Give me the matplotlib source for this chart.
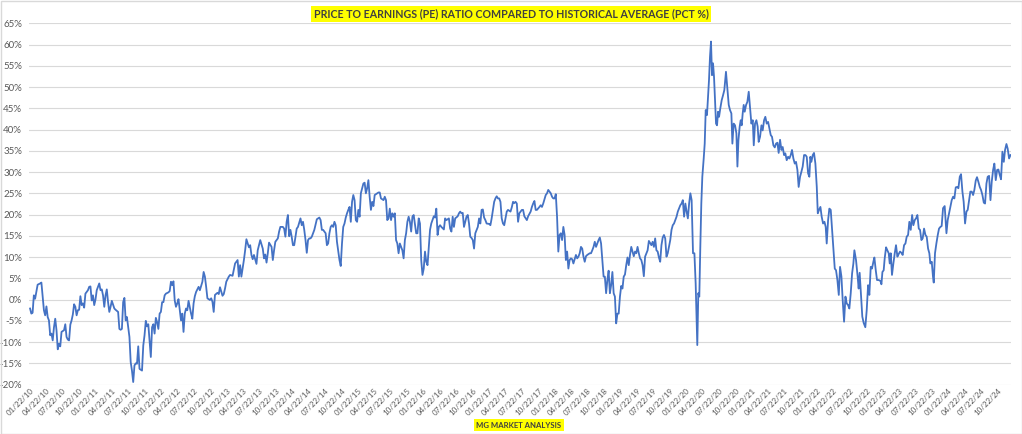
import matplotlib
matplotlib.use("Agg")
import matplotlib.pyplot as plt
import matplotlib.ticker as mticker
import matplotlib.dates as mdates
import numpy as np
import pandas as pd
from matplotlib.lines import Line2D
from matplotlib.patches import Rectangle

plt.rcParams["font.family"] = ["Lato", "DejaVu Sans"]

# weekly series, first observation 2010-01-22; weeks = weeks since then
start = "2010-01-22"

weeks_2010_12 = [0, 1, 2, 3, 4, 5, 6, 8, 9, 11, 12, 13, 14, 15, 16, 17, 18, 19, 20, 21,
                 22, 23, 24, 25, 27, 28, 29, 30, 31, 32, 33, 34, 35, 36, 37, 38, 39, 40, 41, 42,
                 43, 44, 46, 47, 48, 49, 50, 51, 52, 53, 54, 55, 56, 57, 58, 59, 60, 61, 62, 63,
                 64, 65, 67, 68, 70, 71, 72, 73, 74, 75, 76, 77, 79, 80, 81, 82, 83, 84, 85, 86,
                 87, 88, 89, 90, 91, 92, 93, 94, 95, 96, 97, 98, 99, 100, 101, 102, 103, 104, 105, 106,
                 107, 108, 110, 111, 112, 113, 114, 115, 116, 117, 118, 119, 120, 121, 122, 123, 124, 125, 126, 128,
                 129, 130, 131]
pe_2010_12 = [-2.1, -3.3, -3.1, 1.0, 0.2, 1.8, 3.5, 3.8, 4.0, -2.5, -3.7, -1.6, -4.1, -4.9, -8.4, -8.0, -9.6, -6.5, -4.5, -7.2,
              -11.7, -10.4, -11.0, -7.6, -7.2, -5.8, -8.8, -9.4, -9.6, -5.9, -4.9, -3.5, -1.1, -1.7, -3.7, -2.5, -2.4, 0.8, -1.3, -0.9,
              -1.9, 1.4, 2.2, 3.0, 3.1, -0.2, 1.0, -1.3, 0.0, 2.2, 3.0, 3.8, 2.2, 2.4, 1.0, -1.7, 1.0, 2.4, -0.6, -2.9,
              -1.7, -0.3, -2.1, -2.4, -2.9, -6.9, -7.1, -6.9, -0.6, 0.4, -4.9, -4.1, -8.8, -14.7, -16.7, -19.4, -15.5, -15.0, -15.1, -11.0,
              -16.3, -16.5, -16.7, -10.8, -8.4, -5.0, -6.3, -5.8, -9.6, -13.5, -6.5, -5.8, -8.0, -4.3, -5.3, -6.9, -3.3, -2.9, -0.6, -0.6,
              1.0, 1.4, 1.7, 2.0, 4.2, 3.4, 4.3, -0.2, -1.7, -0.9, 0.1, -2.5, -4.9, -3.3, -7.6, -3.3, -2.1, -2.5, -0.3, -3.3,
              -4.5, -0.9, 0.8]

weeks_2012_15 = [132, 134, 135, 137, 138, 139, 140, 141, 143, 144, 145, 146, 147, 149, 150, 151, 153, 154, 155, 156,
                 158, 159, 161, 163, 164, 165, 166, 167, 168, 170, 171, 172, 174, 175, 176, 177, 178, 180, 181, 182,
                 183, 185, 186, 187, 188, 189, 190, 192, 193, 194, 195, 197, 198, 199, 201, 202, 203, 204, 205, 206,
                 207, 208, 209, 210, 211, 212, 213, 215, 216, 217, 218, 219, 220, 221, 222, 223, 224, 226, 227, 228,
                 230, 231, 232, 233, 235, 236, 237, 238, 239, 240, 241, 242, 243, 244, 246, 247, 248, 249, 250, 251,
                 252, 253, 254, 255, 256, 257, 258, 259, 260, 261]
pe_2012_15 = [1.8, 3.0, 2.2, 4.2, 6.5, 5.4, 3.0, 0.3, -0.1, 0.3, -0.5, -2.9, 1.1, 1.6, 1.3, 2.9, 0.9, 1.3, 2.6, 4.2,
              5.4, 5.8, 5.6, 8.5, 8.9, 9.3, 5.4, 8.1, 5.4, 9.3, 11.6, 14.2, 12.3, 12.8, 10.5, 9.5, 10.5, 8.4, 11.6, 12.8,
              14.0, 12.0, 9.7, 10.6, 8.7, 10.9, 13.4, 12.4, 9.3, 11.6, 13.6, 14.4, 16.0, 17.1, 17.1, 16.7, 14.8, 18.3, 19.9, 14.9,
              16.4, 14.8, 12.8, 12.8, 14.8, 16.7, 17.1, 19.1, 17.5, 18.3, 16.4, 14.0, 11.0, 14.0, 14.4, 14.4, 14.8, 16.4, 17.7, 18.9,
              19.3, 18.7, 16.4, 16.4, 15.6, 12.8, 13.2, 15.6, 17.1, 17.5, 17.1, 18.3, 17.5, 13.6, 9.3, 7.9, 13.2, 17.1, 17.9, 19.3,
              20.3, 21.1, 21.8, 18.3, 23.0, 24.6, 23.4, 18.7, 18.3, 21.1]

weeks_2015_17 = [262, 263, 265, 266, 267, 268, 269, 270, 271, 272, 273, 274, 275, 277, 278, 279, 281, 282, 283, 284,
                 285, 286, 287, 288, 289, 290, 291, 292, 293, 294, 295, 296, 297, 298, 299, 300, 301, 302, 303, 304,
                 305, 307, 308, 309, 310, 311, 312, 313, 314, 315, 316, 317, 318, 319, 321, 322, 323, 324, 325, 326,
                 327, 329, 330, 331, 333, 334, 335, 336, 337, 338, 340, 341, 342, 343, 344, 345, 347, 348, 349, 350,
                 351, 352, 353, 354, 356, 357, 358, 359, 360, 361, 362, 363, 365, 366, 367, 368, 369, 370, 371, 372,
                 373, 374, 375, 376, 377, 378, 379, 380, 382, 383, 384, 385, 386, 387, 388, 389, 391, 392, 393]
pe_2015_17 = [19.5, 25.0, 27.3, 27.5, 25.0, 26.2, 28.1, 24.2, 21.1, 23.0, 22.0, 24.6, 24.8, 25.2, 25.2, 23.8, 23.4, 24.2, 23.4, 18.7,
              19.1, 21.4, 18.7, 20.3, 19.5, 20.3, 14.0, 13.2, 10.9, 13.2, 12.4, 11.6, 9.7, 14.0, 15.6, 18.3, 19.5, 18.3, 16.0, 19.5,
              19.9, 15.6, 15.6, 19.1, 17.9, 9.3, 5.8, 7.3, 11.3, 8.9, 8.1, 12.4, 16.4, 17.9, 19.6, 19.3, 21.4, 15.2, 17.1, 17.5,
              17.1, 16.5, 19.1, 18.7, 19.1, 16.7, 16.0, 19.5, 17.1, 19.1, 19.6, 20.3, 20.7, 20.3, 20.4, 17.1, 19.5, 19.9, 17.9, 14.8,
              14.5, 14.0, 12.0, 15.6, 17.1, 19.1, 17.9, 21.1, 21.2, 19.3, 18.7, 17.9, 17.8, 17.5, 19.1, 21.1, 23.0, 23.8, 24.3, 23.8,
              23.8, 23.0, 19.1, 17.9, 17.5, 19.1, 20.7, 21.1, 20.7, 21.7, 23.0, 22.7, 23.0, 22.6, 18.3, 20.3, 21.1, 21.1, 19.6]

weeks_2017_20 = [395, 396, 398, 399, 400, 401, 402, 403, 405, 406, 407, 408, 410, 411, 412, 414, 415, 416, 417, 418,
                 419, 420, 421, 422, 423, 424, 425, 426, 427, 428, 429, 430, 431, 432, 434, 435, 436, 437, 438, 439,
                 440, 441, 442, 443, 445, 446, 447, 448, 449, 450, 452, 453, 454, 455, 456, 457, 458, 459, 460, 461,
                 462, 463, 464, 465, 466, 467, 468, 469, 470, 471, 472, 473, 474, 475, 476, 477, 478, 479, 480, 481,
                 482, 483, 484, 485, 486, 487, 488, 489, 491, 492, 493, 494, 495, 496, 497, 498, 499, 500, 501, 502,
                 503, 504, 505, 506, 507, 508, 509, 510, 511, 512, 513, 514, 515, 517, 518, 519, 520, 521, 522, 523,
                 524, 525]
pe_2017_20 = [18.7, 19.6, 20.7, 21.8, 22.6, 23.2, 21.1, 21.1, 21.8, 22.2, 21.8, 22.6, 24.6, 25.0, 25.8, 25.0, 24.2, 23.8, 23.8, 24.8,
              19.5, 11.3, 15.2, 15.6, 14.0, 17.1, 15.2, 9.3, 11.3, 7.3, 9.3, 9.7, 9.5, 8.5, 10.5, 9.7, 10.1, 10.9, 12.4, 12.0,
              10.1, 8.9, 10.2, 10.5, 10.9, 10.9, 11.6, 12.4, 13.6, 12.4, 14.0, 14.6, 13.2, 9.3, 5.4, 5.4, 1.5, 4.6, 6.8, 1.5,
              3.4, 6.5, 1.5, 0.7, -5.6, -3.3, -3.3, 0.7, 3.2, 2.6, 5.4, 5.9, 8.1, 9.9, 8.1, 10.5, 12.4, 11.3, 10.2, 11.3,
              10.9, 12.4, 10.9, 9.7, 9.3, 8.1, 5.5, 10.1, 11.6, 13.8, 13.3, 12.8, 13.6, 12.4, 14.4, 11.6, 11.3, 9.9, 8.9, 12.8,
              14.6, 15.2, 14.4, 10.1, 10.9, 12.4, 14.0, 16.4, 17.5, 17.9, 18.7, 19.5, 20.7, 22.2, 22.6, 23.4, 19.5, 22.6, 20.7, 19.1,
              22.6, 25.0]

weeks_2020_22 = [526.0, 527.1, 528.2, 529.2, 530.0, 530.5, 531.3, 532.1, 532.9, 533.7, 534.5, 535.6, 536.4, 537.2, 538.2,
                 539.0, 539.8, 540.6, 541.4, 542.2, 543.0, 543.8, 544.6, 545.4, 546.2, 547.0, 547.8, 548.8, 549.9, 551.0,
                 552.0, 553.3, 554.4, 555.5, 556.5, 557.6, 558.4, 559.4, 560.5, 561.6, 562.4, 563.2, 564.2, 565.0, 565.8,
                 566.6, 567.4, 568.2, 569.3, 570.3, 571.4, 572.4, 573.5, 574.6, 575.4, 576.4, 577.5, 578.5, 579.3, 580.4,
                 581.5, 582.5, 583.6, 584.6, 585.7, 586.8, 587.8, 588.9, 589.9, 591.0, 592.1, 593.1, 594.2, 595.2, 596.3,
                 597.4, 598.4, 599.5, 600.5, 601.6, 602.7, 603.7, 604.8, 605.8, 606.9, 608.0, 609.0, 610.1, 611.1, 612.2,
                 613.3, 614.3, 615.4, 616.5, 617.5, 618.6, 619.6, 620.4, 621.2, 622.3, 623.3, 624.4, 625.5, 626.3, 627.3,
                 628.4, 629.4, 630.5, 631.6, 632.6, 633.4, 634.5, 635.5, 636.6, 637.7, 638.7, 639.8, 640.8, 641.9, 643.0,
                 644.0, 645.1, 646.1, 647.2, 648.3, 649.3, 650.4, 651.4, 652.5, 653.6, 654.6]
pe_2020_22 = [23.4, 10.9, 10.9, 3.8, -5.6, -10.7, 1.5, 0.7, 12.4, 22.6, 28.9, 33.2, 36.7, 44.6, 43.4,
              47.7, 51.6, 57.1, 60.7, 52.8, 55.6, 52.4, 46.9, 41.4, 41.0, 44.2, 43.0, 45.0, 46.9, 48.1,
              49.3, 53.6, 49.7, 45.8, 44.6, 43.8, 36.7, 41.4, 41.0, 39.1, 31.3, 37.5, 40.7, 42.2, 41.0,
              43.8, 45.8, 44.2, 45.8, 46.5, 48.9, 45.4, 41.4, 42.2, 36.3, 41.4, 42.2, 40.7, 37.1, 38.3,
              41.0, 39.8, 42.2, 43.0, 41.4, 41.8, 40.3, 38.7, 38.3, 36.3, 35.8, 36.7, 36.9, 34.5, 37.6,
              35.2, 35.9, 34.0, 34.4, 32.8, 33.6, 33.2, 34.0, 35.2, 33.2, 32.0, 32.4, 30.5, 26.5, 28.9,
              30.1, 31.3, 34.0, 34.0, 33.6, 29.7, 28.9, 33.6, 32.4, 34.0, 34.5, 32.0, 26.5, 20.3, 21.1,
              21.8, 19.5, 17.9, 18.3, 17.1, 13.2, 18.7, 21.4, 21.1, 16.4, 12.4, 7.3, 6.9, 4.6, 1.1,
              7.7, 5.4, -0.1, -5.2, 0.7, -0.9, -1.3, -2.1, 1.5, 6.2, 8.5]

weeks_2022_25 = [655.4, 656.7, 658.0, 658.8, 659.6, 660.7, 661.7, 662.8, 664.1, 665.2, 666.3, 667.3, 668.4, 669.4, 670.5,
                 671.3, 672.4, 673.4, 674.7, 676.1, 676.9, 677.7, 678.7, 679.5, 680.6, 681.6, 682.7, 683.5, 684.3, 685.3,
                 686.4, 687.5, 688.5, 689.6, 690.6, 691.7, 692.8, 693.8, 694.9, 696.0, 697.0, 698.1, 699.1, 700.2, 701.3,
                 702.3, 703.4, 704.4, 705.5, 706.6, 707.6, 708.7, 709.7, 710.8, 711.9, 712.9, 714.0, 715.0, 715.8, 716.9,
                 717.9, 718.5, 719.5, 720.6, 721.7, 722.7, 723.8, 724.8, 725.9, 727.2, 728.6, 729.6, 730.7, 731.7, 732.8,
                 733.9, 734.9, 736.0, 737.0, 738.1, 739.2, 740.2, 741.3, 742.3, 743.4, 744.5, 745.5, 746.6, 747.6, 748.7,
                 749.8, 750.8, 751.9, 752.9, 754.0, 755.1, 756.1, 757.2, 758.3, 759.3, 760.4, 761.4, 762.5, 763.6, 764.6,
                 765.7, 766.7, 767.8, 768.9, 769.9, 771.0, 772.0, 773.1, 774.2, 775.2, 776.3, 777.3, 778.4, 779.5]
pe_2022_25 = [11.6, 9.3, 5.4, 2.6, 6.3, 0.7, -4.0, -5.5, -6.5, -2.5, 3.4, 1.1, 7.7, 7.3, 8.9,
              9.9, 6.9, 4.6, 4.6, 4.4, 3.6, 6.5, 6.9, 9.7, 12.3, 11.6, 10.9, 8.5, 10.9, 5.8,
              8.5, 10.9, 12.8, 10.1, 10.7, 11.3, 11.0, 10.5, 12.8, 13.2, 14.8, 15.2, 18.3, 16.4, 19.9,
              17.5, 18.7, 19.1, 19.9, 16.7, 16.4, 14.0, 14.4, 16.7, 15.2, 14.8, 12.0, 10.9, 8.5, 8.9,
              5.4, 4.0, 10.9, 13.2, 15.2, 16.7, 17.1, 17.3, 21.5, 22.0, 15.6, 18.7, 20.3, 21.8, 23.4,
              24.2, 23.8, 26.4, 26.5, 26.2, 28.9, 29.5, 25.4, 23.0, 17.9, 20.7, 21.1, 23.4, 25.4, 25.4,
              24.6, 25.8, 28.0, 28.8, 27.7, 26.5, 25.8, 24.6, 22.8, 22.6, 27.3, 28.9, 29.1, 23.4, 27.7,
              30.5, 32.0, 28.1, 30.5, 30.6, 29.3, 28.3, 34.8, 32.4, 35.2, 36.6, 35.5, 33.2, 34.0]

weeks = weeks_2010_12 + weeks_2012_15 + weeks_2015_17 + weeks_2017_20 + weeks_2020_22 + weeks_2022_25
pe_pct = pe_2010_12 + pe_2012_15 + pe_2015_17 + pe_2017_20 + pe_2020_22 + pe_2022_25
assert len(weeks) == len(pe_pct)

dates = pd.Timestamp(start) + pd.to_timedelta(np.array(weeks) * 7, unit="D")
values = np.array(pe_pct) / 100

tick_dates = [pd.Timestamp(y, m, 22) for y in range(2010, 2025) for m in (1, 4, 7, 10)]

title = "PRICE TO EARNINGS (PE) RATIO COMPARED TO HISTORICAL AVERAGE (PCT %)"
footer = "MG MARKET ANALYSIS"

fig = plt.figure(figsize=(10.22, 4.34), dpi=100)
ax = fig.add_axes([29 / 1022, 1 - 384.6 / 434, 982 / 1022, 361.3 / 434])

ax.plot(dates, values, color="#4472C4", lw=1.3)

ax.set_ylim(-0.20, 0.65)
ax.yaxis.set_major_locator(mticker.MultipleLocator(0.05))
ax.yaxis.set_major_formatter(mticker.FuncFormatter(lambda v, p: f"{v * 100:.0f}%"))
ax.set_xlim(dates[0] - pd.Timedelta(days=6), dates[-1] + pd.Timedelta(days=3))
ax.set_xticks(tick_dates)
ax.xaxis.set_major_formatter(mdates.DateFormatter("%m/%d/%y"))

ax.grid(axis="y", color="#D9D9D9", lw=0.8)
ax.set_axisbelow(True)
for s in ax.spines.values():
    s.set_visible(False)
ax.tick_params(axis="both", length=0, colors="#595959", labelsize=7)
ax.tick_params(axis="y", pad=5)
ax.tick_params(axis="x", pad=2)
for lbl in ax.get_xticklabels():
    lbl.set_rotation(45)
    lbl.set_ha("right")
    lbl.set_rotation_mode("anchor")
    lbl.set_fontsize(5.8)

t1 = fig.text(0.5, 1 - 14 / 434, title, ha="center", va="center", fontsize=7.7, fontweight="bold",
              color="#404040", bbox=dict(facecolor="#FFFF00", edgecolor="none", pad=2))
t2 = fig.text(519 / 1022, 1 - 425 / 434, footer, ha="center", va="center", fontsize=5.6, fontweight="bold",
              color="#404040", bbox=dict(facecolor="#FFFF00", edgecolor="none", pad=1.5))

# underline both labels
fig.canvas.draw()
r = fig.canvas.get_renderer()
for t in (t1, t2):
    bb = t.get_window_extent(r)
    yy = bb.y0 + 0.5
    fig.add_artist(Line2D([bb.x0 / 1022, bb.x1 / 1022], [yy / 434, yy / 434],
                          transform=fig.transFigure, color="#404040", lw=0.8))

fig.add_artist(Rectangle((0.5 / 1022, 0.5 / 434), 1021 / 1022, 433 / 434, transform=fig.transFigure,
                         fill=False, edgecolor="#D9D9D9", lw=1))

fig.savefig("out.png", dpi=100)
